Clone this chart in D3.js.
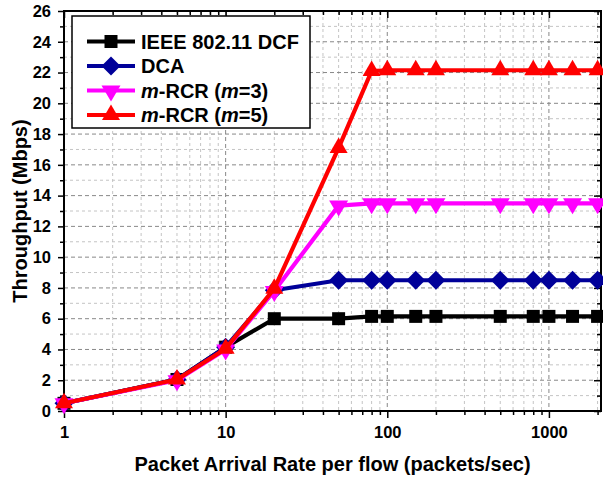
<!DOCTYPE html>
<html>
<head>
<meta charset="utf-8">
<script src="https://cdn.jsdelivr.net/npm/d3@7"></script>
<style>
  body { margin: 0; background: #fff; }
  svg { display: block; font-family: "Liberation Sans", Arial, sans-serif; font-weight: bold; }
</style>
</head>
<body>
<svg id="chart" width="603" height="478"></svg>
<script>
// ---- data ----
const rates = [1, 5, 10, 20, 50, 80, 100, 150, 200, 500, 800, 1000, 1400, 2000];
const dcf   = [0.5, 2.05, 4.15, 6.0, 6.0, 6.15, 6.15, 6.15, 6.15, 6.15, 6.15, 6.15, 6.15, 6.15];
const dca   = [0.5, 2.05, 4.15, 7.85, 8.5, 8.5, 8.5, 8.5, 8.5, 8.5, 8.5, 8.5, 8.5, 8.5];
const rcr3  = [0.5, 2.0, 4.0, 7.8, 13.35, 13.5, 13.5, 13.5, 13.5, 13.5, 13.5, 13.5, 13.5, 13.5];
const rcr5  = [0.5, 2.05, 4.05, 7.95, 17.1, 22.1, 22.15, 22.15, 22.15, 22.15, 22.15, 22.15, 22.15, 22.15];
const seriesNames = ["IEEE 802.11 DCF", "DCA", "m-RCR (m=3)", "m-RCR (m=5)"];
const xMajorTicks = [1, 10, 100, 1000];
const yMajorTicks = [0, 2, 4, 6, 8, 10, 12, 14, 16, 18, 20, 22, 24, 26];

const series = [
  { name: seriesNames[0], values: dcf,  color: "#000000", marker: "square" },
  { name: seriesNames[1], values: dca,  color: "#000099", marker: "diamond" },
  { name: seriesNames[2], values: rcr3, color: "#ff00ff", marker: "down" },
  { name: seriesNames[3], values: rcr5, color: "#ff0000", marker: "up" }
];

const svg = d3.select("#chart");
const L = 64, R = 601, T = 11, B = 411;
const x = d3.scaleLog().domain([1, 2100]).range([L, R]);
const y = d3.scaleLinear().domain([0, 26]).range([B, T]);

// minor values
const xMinor = [];
for (let e = 0; e < 4; e++) for (let k = 2; k <= 9; k++) { const v = k * Math.pow(10, e); if (v <= 2100) xMinor.push(v); }
const yMinor = d3.range(1, 26, 2);

// ---- grid ----
const grid = svg.append("g");
grid.selectAll(".xm").data(xMinor).join("line")
  .attr("x1", d => x(d)).attr("x2", d => x(d)).attr("y1", T).attr("y2", B)
  .attr("stroke", "#c4c4c4").attr("stroke-width", 1).attr("stroke-dasharray", "3,3");
grid.selectAll(".ym").data(yMinor).join("line")
  .attr("y1", d => y(d)).attr("y2", d => y(d)).attr("x1", L).attr("x2", R)
  .attr("stroke", "#c4c4c4").attr("stroke-width", 1).attr("stroke-dasharray", "3,3");
grid.selectAll(".xM").data(xMajorTicks.slice(1)).join("line")
  .attr("x1", d => x(d)).attr("x2", d => x(d)).attr("y1", T).attr("y2", B)
  .attr("stroke", "#888").attr("stroke-width", 1).attr("stroke-dasharray", "4,3");
grid.selectAll(".yM").data(yMajorTicks.slice(1, -1)).join("line")
  .attr("y1", d => y(d)).attr("y2", d => y(d)).attr("x1", L).attr("x2", R)
  .attr("stroke", "#888").attr("stroke-width", 1).attr("stroke-dasharray", "4,3");

// ---- axes ----
function styleAxis(g) {
  g.select(".domain").remove();
  g.selectAll(".tick line").attr("stroke", "#000").attr("stroke-width", 1.5);
  g.selectAll(".tick text").attr("fill", "#000").attr("font-size", 16.5).attr("font-weight", "bold")
    .attr("font-family", "'Liberation Sans', Arial, sans-serif");
}
// bottom
svg.append("g").attr("transform", `translate(0,${B})`)
  .call(d3.axisBottom(x).tickValues(xMajorTicks).tickFormat(d3.format("d")).tickSize(7).tickPadding(8))
  .call(styleAxis);
svg.append("g").attr("transform", `translate(0,${B})`)
  .call(d3.axisBottom(x).tickValues(xMinor).tickFormat("").tickSize(4))
  .call(styleAxis);
// top (inward)
svg.append("g").attr("transform", `translate(0,${T})`)
  .call(d3.axisBottom(x).tickValues(xMajorTicks).tickFormat("").tickSize(7))
  .call(styleAxis);
svg.append("g").attr("transform", `translate(0,${T})`)
  .call(d3.axisBottom(x).tickValues(xMinor).tickFormat("").tickSize(4))
  .call(styleAxis);
// left
svg.append("g").attr("transform", `translate(${L},0)`)
  .call(d3.axisLeft(y).tickValues(yMajorTicks).tickFormat(d3.format("d")).tickSize(6).tickPadding(7))
  .call(styleAxis);
svg.append("g").attr("transform", `translate(${L},0)`)
  .call(d3.axisLeft(y).tickValues(yMinor).tickFormat("").tickSize(4))
  .call(styleAxis);
// right (inward)
svg.append("g").attr("transform", `translate(${R},0)`)
  .call(d3.axisLeft(y).tickValues(yMajorTicks).tickFormat("").tickSize(7))
  .call(styleAxis);
svg.append("g").attr("transform", `translate(${R},0)`)
  .call(d3.axisLeft(y).tickValues(yMinor).tickFormat("").tickSize(4))
  .call(styleAxis);

// frame
svg.append("rect").attr("x", L).attr("y", T).attr("width", R - L).attr("height", B - T)
  .attr("fill", "none").attr("stroke", "#000").attr("stroke-width", 2);

// ---- markers ----
function markerPath(type) {
  if (type === "square") return "M-6.5,-6.5H6.5V6.5H-6.5Z";
  if (type === "diamond") return "M0,-9.5L9.5,0L0,9.5L-9.5,0Z";
  if (type === "up") return "M0,-10.5L9,5L-9,5Z";
  if (type === "down") return "M0,11L9.5,-5L-9.5,-5Z";
}

// ---- lines ----
const line = d3.line().x(d => x(d[0])).y(d => y(d[1]));
const plot = svg.append("g");
series.forEach(s => {
  const pts = rates.map((r, i) => [r, s.values[i]]);
  plot.append("path").datum(pts).attr("d", line)
    .attr("fill", "none").attr("stroke", s.color).attr("stroke-width", 4.2)
    .attr("stroke-linejoin", "round");
  plot.selectAll(null).data(pts).join("path")
    .attr("transform", d => `translate(${x(d[0])},${y(d[1])})`)
    .attr("d", markerPath(s.marker)).attr("fill", s.color);
});

// ---- legend ----
const lg = svg.append("g");
lg.append("rect").attr("x", 72).attr("y", 16).attr("width", 238).attr("height", 112)
  .attr("fill", "#fff").attr("stroke", "#000").attr("stroke-width", 1.5);
const rowY = [41.5, 66, 90.5, 115];
series.forEach((s, i) => {
  const g = lg.append("g").attr("transform", `translate(0,${rowY[i]})`);
  g.append("line").attr("x1", 87).attr("x2", 135).attr("y1", 0).attr("y2", 0)
    .attr("stroke", s.color).attr("stroke-width", 4.2);
  g.append("path").attr("transform", "translate(111,0)").attr("d", markerPath(s.marker)).attr("fill", s.color);
  const t = g.append("text").attr("x", 141).attr("y", 7).attr("font-size", 20).attr("fill", "#000");
  if (s.name.startsWith("m-")) {
    const mval = s.name.match(/m=(\d)/)[1];
    t.append("tspan").attr("font-style", "italic").text("m");
    t.append("tspan").text("-RCR (");
    t.append("tspan").attr("font-style", "italic").text("m");
    t.append("tspan").text("=" + mval + ")");
  } else {
    t.text(s.name);
  }
});

// ---- titles ----
svg.append("text").attr("x", (L + R) / 2).attr("y", 471).attr("text-anchor", "middle")
  .attr("font-size", 20).text("Packet Arrival Rate per flow (packets/sec)");
svg.append("text").attr("transform", `translate(27,${(T + B) / 2}) rotate(-90)`)
  .attr("text-anchor", "middle").attr("font-size", 20).text("Throughput (Mbps)");
</script>
</body>
</html>
